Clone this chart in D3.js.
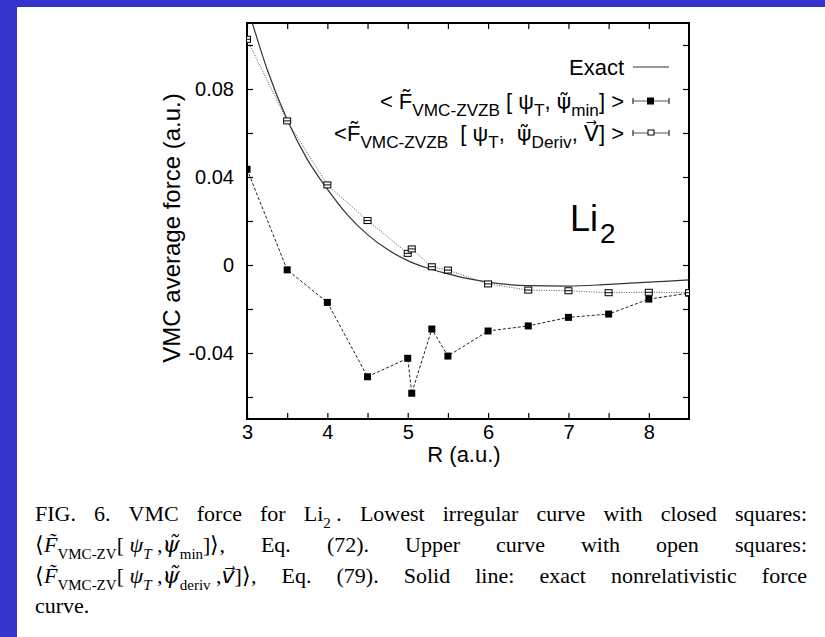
<!DOCTYPE html>
<html>
<head>
<meta charset="utf-8">
<script src="https://cdn.jsdelivr.net/npm/d3@7"></script>
<style>
  body { margin: 0; background: #fff; }
  svg { display: block; }
</style>
</head>
<body>
<div id="chart"></div>
<script>
(function(){
	var width = 825, height = 637;

	// bond length R (a.u.) and forces (a.u.)
	var R_pts   = [3, 3.5, 4, 4.5, 5, 5.05, 5.3, 5.5, 6, 6.5, 7, 7.5, 8, 8.5];
	var F_min   = [0.0435, -0.0022, -0.0170, -0.0508, -0.0424, -0.0583, -0.0291, -0.0414, -0.0300, -0.0277, -0.0238, -0.0223, -0.0155, -0.0128];
	var F_deriv = [0.1026, 0.0655, 0.0364, 0.0202, 0.0053, 0.0073, -0.0008, -0.0023, -0.0086, -0.0114, -0.0117, -0.0126, -0.0124, -0.0126];

	var R_exact = [3.0, 3.25, 3.5, 3.75, 4.0, 4.25, 4.5, 4.75, 5.0, 5.25, 5.5, 5.75, 6.0, 6.5, 7.0, 7.5, 8.0, 8.5];
	var F_exact = [0.118, 0.089, 0.066, 0.048, 0.0345, 0.0228, 0.0138, 0.0070, 0.0020, -0.0015, -0.0040, -0.0062, -0.0078, -0.0094, -0.0096, -0.0088, -0.0078, -0.0068];

	var xTicks = [3, 3.5, 4, 4.5, 5, 5.5, 6, 6.5, 7, 7.5, 8];
	var xLabels = [3, 4, 5, 6, 7, 8];
	var yTicks = [-0.06, -0.04, -0.02, 0, 0.02, 0.04, 0.06, 0.08, 0.10];
	var yLabels = [-0.04, 0, 0.04, 0.08];

	var svg = d3.select('#chart').append('svg')
		.attr('width', width)
		.attr('height', height);

	svg.append('rect').attr('width', width).attr('height', height).attr('fill', '#fff');
	// slide frame
	svg.append('rect').attr('x', 0).attr('y', 0).attr('width', width).attr('height', 7).attr('fill', '#3434cc');
	svg.append('rect').attr('x', 0).attr('y', 0).attr('width', 17).attr('height', height).attr('fill', '#3434cc');

	var x = d3.scaleLinear().domain([3, 8.5]).range([247, 689]);
	var y = d3.scaleLinear().domain([-0.07, 0.11]).range([419, 23]);

	var sans = 'Liberation Sans, Arial, Helvetica, sans-serif';
	var serif = 'Liberation Serif, Times New Roman, serif';
	var djs = 'DejaVu Sans, sans-serif';
	var djserif = 'DejaVu Serif, serif';
	var NB = '\u00A0';

	svg.append('clipPath').attr('id', 'plotclip')
		.append('rect').attr('x', 247).attr('y', 23).attr('width', 442).attr('height', 396);

	function fmtX(d){ return xLabels.indexOf(d) >= 0 ? String(d) : ''; }
	function fmtY(d){
		var hit = yLabels.some(function(v){ return Math.abs(v - d) < 1e-9; });
		if (!hit) return '';
		return Math.abs(d) < 1e-9 ? '0' : d.toFixed(2);
	}

	function styleAxis(g){
		g.select('.domain').remove();
		g.selectAll('.tick line').attr('stroke', '#000').attr('stroke-width', 1.2);
		g.selectAll('.tick text').attr('font-family', sans).attr('font-size', 20).attr('fill', '#000');
	}

	svg.append('g').attr('transform', 'translate(0,419)')
		.call(d3.axisBottom(x).tickValues(xTicks).tickSize(-6).tickPadding(6).tickFormat(fmtX))
		.call(styleAxis);
	svg.append('g').attr('transform', 'translate(0,23)')
		.call(d3.axisTop(x).tickValues(xTicks).tickSize(-6).tickFormat(''))
		.call(styleAxis);
	svg.append('g').attr('transform', 'translate(247,0)')
		.call(d3.axisLeft(y).tickValues(yTicks).tickSize(-6).tickPadding(13).tickFormat(fmtY))
		.call(styleAxis);
	svg.append('g').attr('transform', 'translate(689,0)')
		.call(d3.axisRight(y).tickValues(yTicks).tickSize(-6).tickFormat(''))
		.call(styleAxis);

	svg.append('rect')
		.attr('x', 247).attr('y', 23).attr('width', 442).attr('height', 396)
		.attr('fill', 'none').attr('stroke', '#000').attr('stroke-width', 2);

	// axis titles
	svg.append('text')
		.attr('transform', 'translate(180,228) rotate(-90)')
		.attr('text-anchor', 'middle')
		.attr('font-family', sans).attr('font-size', 24)
		.text('VMC average force (a.u.)');
	svg.append('text')
		.attr('x', 464).attr('y', 462)
		.attr('text-anchor', 'middle')
		.attr('font-family', sans).attr('font-size', 22)
		.text('R (a.u.)');

	// curves
	var plot = svg.append('g').attr('clip-path', 'url(#plotclip)');

	var exactLine = d3.line()
		.x(function(d, i){ return x(R_exact[i]); })
		.y(function(d){ return y(d); })
		.curve(d3.curveMonotoneX);
	plot.append('path')
		.attr('d', exactLine(F_exact))
		.attr('fill', 'none').attr('stroke', '#333').attr('stroke-width', 1.2);

	var ptLine = d3.line()
		.x(function(d, i){ return x(R_pts[i]); })
		.y(function(d){ return y(d); });

	plot.append('path')
		.attr('d', ptLine(F_deriv))
		.attr('fill', 'none').attr('stroke', '#555').attr('stroke-width', 1)
		.attr('stroke-dasharray', '1,1.5');

	plot.append('path')
		.attr('d', ptLine(F_min))
		.attr('fill', 'none').attr('stroke', '#222').attr('stroke-width', 1)
		.attr('stroke-dasharray', '3,2');

	var s = 7;
	plot.selectAll('.closed')
		.data(F_min).enter().append('rect')
		.attr('class', 'closed')
		.attr('x', function(d, i){ return x(R_pts[i]) - s/2; })
		.attr('y', function(d){ return y(d) - s/2; })
		.attr('width', s).attr('height', s)
		.attr('fill', '#000');

	var open = plot.selectAll('.open')
		.data(F_deriv).enter().append('g')
		.attr('class', 'open')
		.attr('transform', function(d, i){ return 'translate(' + x(R_pts[i]) + ',' + y(d) + ')'; });
	open.append('rect')
		.attr('x', -3.5).attr('y', -3).attr('width', 7).attr('height', 6)
		.attr('fill', '#fff').attr('stroke', '#000').attr('stroke-width', 1);
	open.append('line')
		.attr('x1', -3.5).attr('x2', 3.5).attr('y1', 0).attr('y2', 0)
		.attr('stroke', '#000').attr('stroke-width', 1);

	// Li2 label
	var li = svg.append('text')
		.attr('x', 570).attr('y', 231)
		.attr('font-family', sans).attr('font-size', 36);
	li.append('tspan').text('Li');
	li.append('tspan').attr('font-size', 28).attr('dy', 12).attr('dx', 2).text('2');

	// rich text helper: runs of {t, sub, it, size, ff}
	function addRuns(txt, runs, base){
		var shift = 0;
		runs.forEach(function(r){
			var ts = txt.append('tspan').text(r.t);
			var want = r.sub ? Math.round(base * 0.3) : 0;
			if (want !== shift) { ts.attr('dy', want - shift); shift = want; }
			if (r.sub) ts.attr('font-size', r.size || base * 0.78);
			if (r.it) ts.attr('font-style', 'italic');
			if (r.ff) ts.attr('font-family', r.ff);
		});
	}

	// legend
	var legRows = [
		{y: 67, runs: [{t: 'Exact'}]},
		{y: 101, runs: [{t: '< F\u0303'}, {t: 'VMC-ZVZB', sub: true}, {t: ' [ \u03C8'}, {t: 'T', sub: true}, {t: ', '},
			{t: '\u03C8\u0303', ff: djs, size: 19}, {t: 'min', sub: true}, {t: '] >'}]},
		{y: 133, runs: [{t: '<F\u0303'}, {t: 'VMC-ZVZB', sub: true}, {t: NB + NB + '[ \u03C8'}, {t: 'T', sub: true}, {t: ',' + NB + NB},
			{t: '\u03C8\u0303', ff: djs}, {t: 'Deriv', sub: true}, {t: ', '}, {t: 'V\u20D7', ff: djs}, {t: '] >'}]}
	];
	legRows.forEach(function(row, k){
		var t = svg.append('text')
			.attr('x', 624).attr('y', row.y + 8)
			.attr('text-anchor', 'end')
			.attr('font-family', sans).attr('font-size', 22);
		addRuns(t, row.runs, 22);
		var g = svg.append('g').attr('transform', 'translate(0,' + row.y + ')');
		if (k === 0) {
			g.append('line').attr('x1', 633).attr('x2', 669).attr('y1', 0).attr('y2', 0)
				.attr('stroke', '#777').attr('stroke-width', 1.5);
		} else {
			g.append('line').attr('x1', 633).attr('x2', 669).attr('y1', 0).attr('y2', 0)
				.attr('stroke', '#555').attr('stroke-width', 1);
			g.append('line').attr('x1', 633).attr('x2', 633).attr('y1', -3).attr('y2', 3).attr('stroke', '#000');
			g.append('line').attr('x1', 669).attr('x2', 669).attr('y1', -3).attr('y2', 3).attr('stroke', '#000');
			if (k === 1) {
				g.append('rect').attr('x', 647).attr('y', -3.5).attr('width', 7).attr('height', 7).attr('fill', '#000');
			} else {
				g.append('rect').attr('x', 648).attr('y', -3).attr('width', 6).attr('height', 5)
					.attr('fill', '#fff').attr('stroke', '#000');
			}
		}
	});

	// caption, justified word by word
	var capLines = [
		{y: 521, just: true, words: [
			[{t: 'FIG.'}], [{t: '6.'}], [{t: 'VMC'}], [{t: 'force'}], [{t: 'for'}],
			[{t: 'Li'}, {t: '2', sub: true, size: 15}, {t: ' .'}], [{t: 'Lowest'}], [{t: 'irregular'}],
			[{t: 'curve'}], [{t: 'with'}], [{t: 'closed'}], [{t: 'squares:'}]]},
		{y: 552, just: true, words: [
			[{t: '\u27E8'}, {t: 'F\u0303', it: true}, {t: 'VMC-ZV', sub: true, size: 15}, {t: '[ '}, {t: '\u03C8', it: true},
			 {t: 'T', sub: true, it: true, size: 15}, {t: ' ,'}, {t: '\u03C8\u0303', it: true, ff: djserif}, {t: 'min', sub: true, size: 15}, {t: ']\u27E9,'}],
			[{t: 'Eq.'}], [{t: '(72).'}], [{t: 'Upper'}], [{t: 'curve'}], [{t: 'with'}], [{t: 'open'}], [{t: 'squares:'}]]},
		{y: 583, just: true, words: [
			[{t: '\u27E8'}, {t: 'F\u0303', it: true}, {t: 'VMC-ZV', sub: true, size: 15}, {t: '[ '}, {t: '\u03C8', it: true},
			 {t: 'T', sub: true, it: true, size: 15}, {t: ' ,'}, {t: '\u03C8\u0303', it: true, ff: djserif}, {t: 'deriv', sub: true, size: 15},
			 {t: ' ,'}, {t: 'v\u20D7', it: true, ff: djs}, {t: ']\u27E9,'}],
			[{t: 'Eq.'}], [{t: '(79).'}], [{t: 'Solid'}], [{t: 'line:'}], [{t: 'exact'}], [{t: 'nonrelativistic'}], [{t: 'force'}]]},
		{y: 613, just: false, words: [[{t: 'curve.'}]]}
	];
	var capLeft = 35, capRight = 807, capSize = 22;

	capLines.forEach(function(line){
		var g = svg.append('g');
		var items = line.words.map(function(w){
			var t = g.append('text').attr('y', line.y)
				.attr('font-family', serif).attr('font-size', capSize).attr('fill', '#000');
			addRuns(t, w, capSize);
			return t;
		});
		var widths = items.map(function(t){ return t.node().getComputedTextLength(); });
		var total = d3.sum(widths);
		var gap = line.just && items.length > 1 ? (capRight - capLeft - total) / (items.length - 1) : capSize * 0.25;
		var cx = capLeft;
		items.forEach(function(t, i){
			t.attr('x', cx);
			cx += widths[i] + gap;
		});
	});
})();
</script>
</body>
</html>
